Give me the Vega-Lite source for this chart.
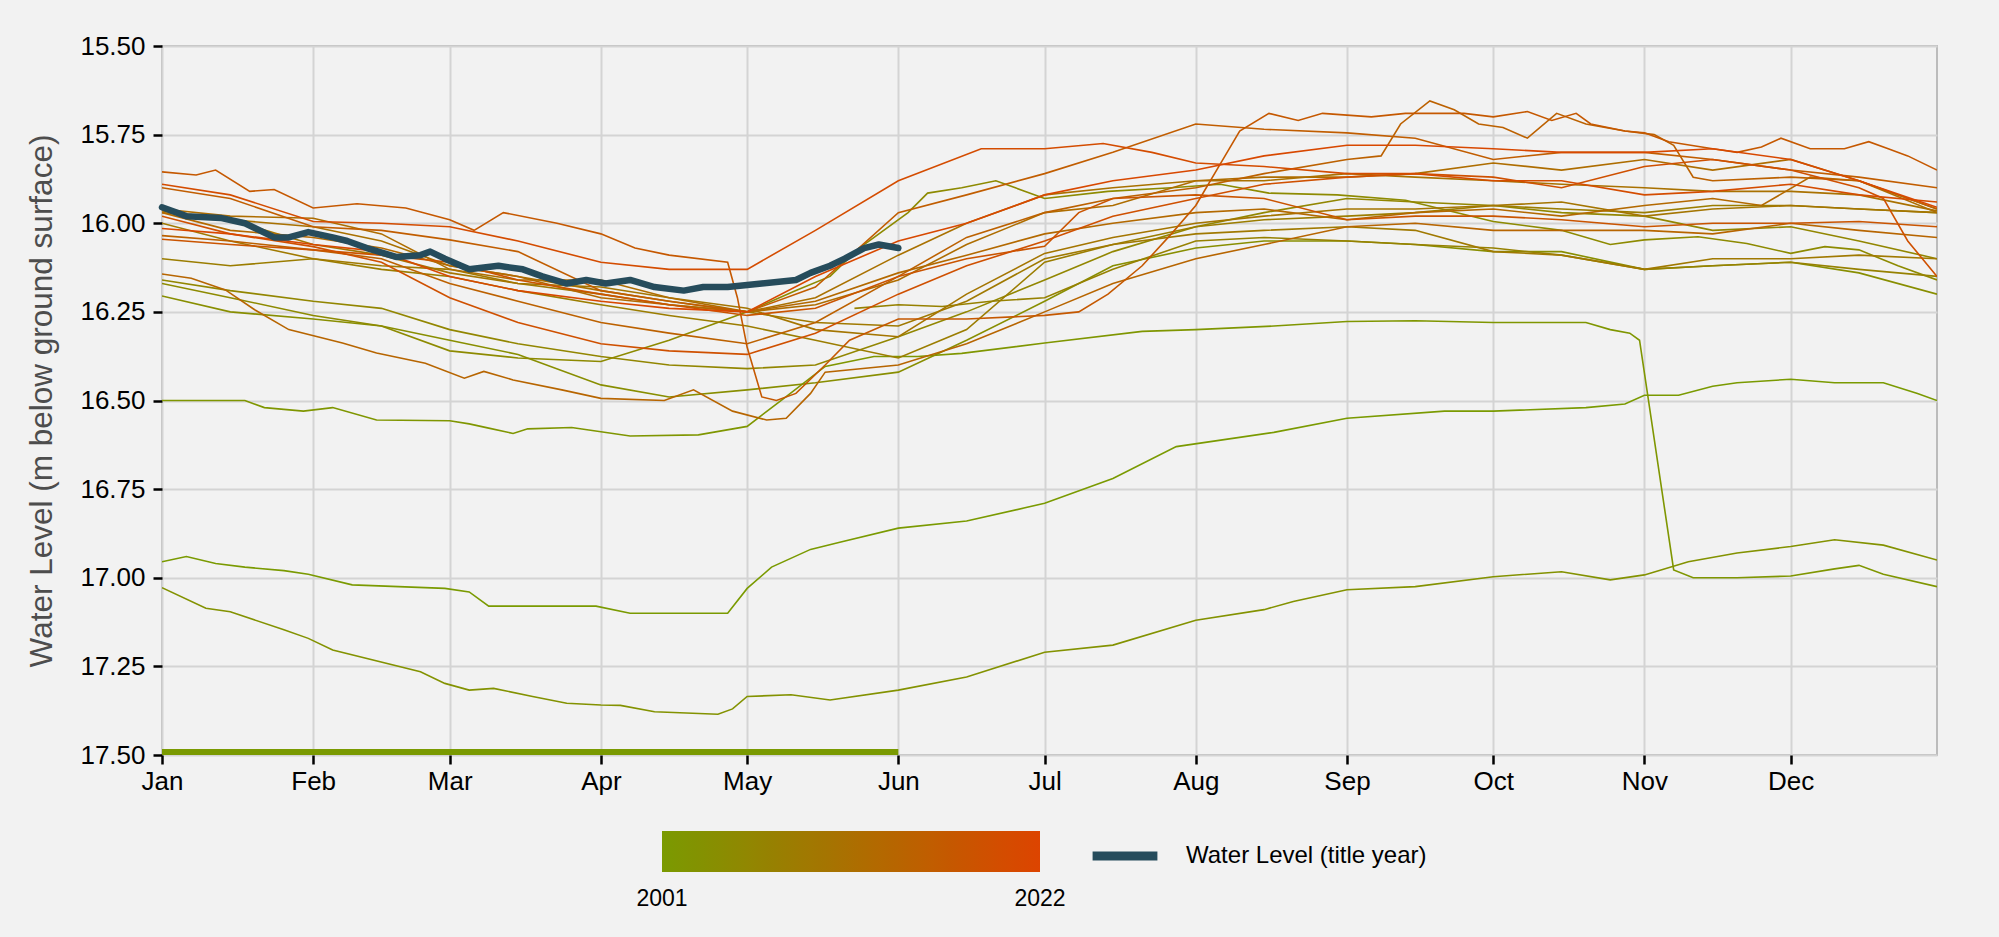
{
"$schema": "https://vega.github.io/schema/vega-lite/v6.json",
"width": 1775, "height": 709,
"autosize": {"type": "none"},
"padding": {"left": 162, "top": 46, "right": 62, "bottom": 182},
"background": "#f2f2f2",
"config": {
  "font": "Liberation Sans",
  "view": {"fill": "#f2f2f2", "stroke": "#bcbcbc", "strokeWidth": 2},
  "axis": {"gridColor": "#d4d4d4", "gridWidth": 2, "tickColor": "#000000", "tickWidth": 2.5, "tickSize": 9, "labelFontSize": 26, "labelColor": "#000000", "domain": false, "labelFont": "Liberation Sans"},
  "legend": {"padding": 0, "labelFont": "Liberation Sans", "labelColor": "#000000", "labelLimit": 0}
},
"datasets": {
"hist": [
{"yr":2001,"date":"2022-01-01","wl":16.955},{"yr":2001,"date":"2022-01-06","wl":16.94},{"yr":2001,"date":"2022-01-12","wl":16.96},{"yr":2001,"date":"2022-01-18","wl":16.97},{"yr":2001,"date":"2022-01-26","wl":16.98},{"yr":2001,"date":"2022-01-31","wl":16.99},{"yr":2001,"date":"2022-02-09","wl":17.02},{"yr":2001,"date":"2022-02-28","wl":17.03},{"yr":2001,"date":"2022-03-05","wl":17.04},{"yr":2001,"date":"2022-03-09","wl":17.08},{"yr":2001,"date":"2022-03-31","wl":17.08},{"yr":2001,"date":"2022-04-07","wl":17.10},{"yr":2001,"date":"2022-04-27","wl":17.10},{"yr":2001,"date":"2022-05-01","wl":17.03},{"yr":2001,"date":"2022-05-06","wl":16.97},{"yr":2001,"date":"2022-05-14","wl":16.92},{"yr":2001,"date":"2022-05-20","wl":16.90},{"yr":2001,"date":"2022-06-01","wl":16.86},{"yr":2001,"date":"2022-06-15","wl":16.84},{"yr":2001,"date":"2022-07-01","wl":16.79},{"yr":2001,"date":"2022-07-15","wl":16.72},{"yr":2001,"date":"2022-07-28","wl":16.63},{"yr":2001,"date":"2022-08-17","wl":16.59},{"yr":2001,"date":"2022-09-01","wl":16.55},{"yr":2001,"date":"2022-09-21","wl":16.53},{"yr":2001,"date":"2022-10-01","wl":16.53},{"yr":2001,"date":"2022-10-20","wl":16.52},{"yr":2001,"date":"2022-10-28","wl":16.51},{"yr":2001,"date":"2022-11-01","wl":16.485},{"yr":2001,"date":"2022-11-08","wl":16.485},{"yr":2001,"date":"2022-11-15","wl":16.46},{"yr":2001,"date":"2022-11-20","wl":16.45},{"yr":2001,"date":"2022-12-01","wl":16.44},{"yr":2001,"date":"2022-12-10","wl":16.45},{"yr":2001,"date":"2022-12-20","wl":16.45},{"yr":2001,"date":"2022-12-27","wl":16.48},{"yr":2001,"date":"2022-12-31","wl":16.50},
{"yr":2002,"date":"2022-01-01","wl":16.50},{"yr":2002,"date":"2022-01-18","wl":16.50},{"yr":2002,"date":"2022-01-22","wl":16.52},{"yr":2002,"date":"2022-01-30","wl":16.53},{"yr":2002,"date":"2022-02-05","wl":16.52},{"yr":2002,"date":"2022-02-14","wl":16.555},{"yr":2002,"date":"2022-03-01","wl":16.557},{"yr":2002,"date":"2022-03-05","wl":16.566},{"yr":2002,"date":"2022-03-09","wl":16.578},{"yr":2002,"date":"2022-03-14","wl":16.593},{"yr":2002,"date":"2022-03-17","wl":16.58},{"yr":2002,"date":"2022-03-26","wl":16.576},{"yr":2002,"date":"2022-04-07","wl":16.60},{"yr":2002,"date":"2022-04-21","wl":16.597},{"yr":2002,"date":"2022-05-01","wl":16.573},{"yr":2002,"date":"2022-05-09","wl":16.489},{"yr":2002,"date":"2022-05-17","wl":16.404},{"yr":2002,"date":"2022-05-27","wl":16.376},{"yr":2002,"date":"2022-06-05","wl":16.376},{"yr":2002,"date":"2022-06-14","wl":16.367},{"yr":2002,"date":"2022-07-01","wl":16.338},{"yr":2002,"date":"2022-07-21","wl":16.305},{"yr":2002,"date":"2022-08-01","wl":16.30},{"yr":2002,"date":"2022-08-17","wl":16.29},{"yr":2002,"date":"2022-09-01","wl":16.277},{"yr":2002,"date":"2022-09-15","wl":16.275},{"yr":2002,"date":"2022-10-01","wl":16.28},{"yr":2002,"date":"2022-10-20","wl":16.28},{"yr":2002,"date":"2022-10-25","wl":16.30},{"yr":2002,"date":"2022-10-29","wl":16.31},{"yr":2002,"date":"2022-10-31","wl":16.33},{"yr":2002,"date":"2022-11-07","wl":16.978},{"yr":2002,"date":"2022-11-11","wl":17.0},{"yr":2002,"date":"2022-11-20","wl":17.0},{"yr":2002,"date":"2022-12-01","wl":16.995},{"yr":2002,"date":"2022-12-10","wl":16.975},{"yr":2002,"date":"2022-12-15","wl":16.965},{"yr":2002,"date":"2022-12-20","wl":16.99},{"yr":2002,"date":"2022-12-31","wl":17.025},
{"yr":2003,"date":"2022-01-01","wl":17.028},{"yr":2003,"date":"2022-01-10","wl":17.086},{"yr":2003,"date":"2022-01-15","wl":17.096},{"yr":2003,"date":"2022-01-26","wl":17.147},{"yr":2003,"date":"2022-01-31","wl":17.171},{"yr":2003,"date":"2022-02-05","wl":17.204},{"yr":2003,"date":"2022-02-23","wl":17.265},{"yr":2003,"date":"2022-02-28","wl":17.298},{"yr":2003,"date":"2022-03-05","wl":17.317},{"yr":2003,"date":"2022-03-10","wl":17.312},{"yr":2003,"date":"2022-03-18","wl":17.335},{"yr":2003,"date":"2022-03-25","wl":17.354},{"yr":2003,"date":"2022-04-01","wl":17.359},{"yr":2003,"date":"2022-04-05","wl":17.36},{"yr":2003,"date":"2022-04-12","wl":17.378},{"yr":2003,"date":"2022-04-25","wl":17.385},{"yr":2003,"date":"2022-04-28","wl":17.37},{"yr":2003,"date":"2022-05-01","wl":17.335},{"yr":2003,"date":"2022-05-10","wl":17.33},{"yr":2003,"date":"2022-05-18","wl":17.345},{"yr":2003,"date":"2022-06-01","wl":17.317},{"yr":2003,"date":"2022-06-15","wl":17.28},{"yr":2003,"date":"2022-07-01","wl":17.21},{"yr":2003,"date":"2022-07-15","wl":17.19},{"yr":2003,"date":"2022-08-01","wl":17.12},{"yr":2003,"date":"2022-08-15","wl":17.09},{"yr":2003,"date":"2022-08-21","wl":17.067},{"yr":2003,"date":"2022-09-01","wl":17.034},{"yr":2003,"date":"2022-09-15","wl":17.025},{"yr":2003,"date":"2022-10-01","wl":16.997},{"yr":2003,"date":"2022-10-15","wl":16.983},{"yr":2003,"date":"2022-10-25","wl":17.006},{"yr":2003,"date":"2022-11-01","wl":16.992},{"yr":2003,"date":"2022-11-10","wl":16.955},{"yr":2003,"date":"2022-11-20","wl":16.93},{"yr":2003,"date":"2022-12-01","wl":16.912},{"yr":2003,"date":"2022-12-10","wl":16.893},{"yr":2003,"date":"2022-12-20","wl":16.908},{"yr":2003,"date":"2022-12-31","wl":16.95},
{"yr":2004,"date":"2022-01-01","wl":16.205},{"yr":2004,"date":"2022-01-15","wl":16.25},{"yr":2004,"date":"2022-02-01","wl":16.27},{"yr":2004,"date":"2022-02-15","wl":16.29},{"yr":2004,"date":"2022-03-01","wl":16.33},{"yr":2004,"date":"2022-03-15","wl":16.37},{"yr":2004,"date":"2022-04-01","wl":16.456},{"yr":2004,"date":"2022-04-15","wl":16.49},{"yr":2004,"date":"2022-05-01","wl":16.47},{"yr":2004,"date":"2022-05-15","wl":16.45},{"yr":2004,"date":"2022-06-01","wl":16.42},{"yr":2004,"date":"2022-06-15","wl":16.33},{"yr":2004,"date":"2022-07-01","wl":16.22},{"yr":2004,"date":"2022-07-15","wl":16.12},{"yr":2004,"date":"2022-08-01","wl":16.07},{"yr":2004,"date":"2022-08-15","wl":16.05},{"yr":2004,"date":"2022-09-01","wl":16.05},{"yr":2004,"date":"2022-09-15","wl":16.06},{"yr":2004,"date":"2022-10-01","wl":16.08},{"yr":2004,"date":"2022-10-15","wl":16.08},{"yr":2004,"date":"2022-11-01","wl":16.13},{"yr":2004,"date":"2022-11-15","wl":16.12},{"yr":2004,"date":"2022-12-01","wl":16.11},{"yr":2004,"date":"2022-12-15","wl":16.14},{"yr":2004,"date":"2022-12-31","wl":16.20},
{"yr":2005,"date":"2022-01-01","wl":16.17},{"yr":2005,"date":"2022-01-15","wl":16.21},{"yr":2005,"date":"2022-02-01","wl":16.26},{"yr":2005,"date":"2022-02-15","wl":16.29},{"yr":2005,"date":"2022-03-01","wl":16.36},{"yr":2005,"date":"2022-03-15","wl":16.38},{"yr":2005,"date":"2022-04-01","wl":16.39},{"yr":2005,"date":"2022-04-15","wl":16.33},{"yr":2005,"date":"2022-05-01","wl":16.25},{"yr":2005,"date":"2022-05-11","wl":16.19},{"yr":2005,"date":"2022-05-18","wl":16.15},{"yr":2005,"date":"2022-05-24","wl":16.07},{"yr":2005,"date":"2022-06-03","wl":15.97},{"yr":2005,"date":"2022-06-07","wl":15.915},{"yr":2005,"date":"2022-06-14","wl":15.90},{"yr":2005,"date":"2022-06-21","wl":15.88},{"yr":2005,"date":"2022-06-25","wl":15.90},{"yr":2005,"date":"2022-07-01","wl":15.93},{"yr":2005,"date":"2022-07-14","wl":15.91},{"yr":2005,"date":"2022-07-27","wl":15.90},{"yr":2005,"date":"2022-08-06","wl":15.89},{"yr":2005,"date":"2022-08-16","wl":15.915},{"yr":2005,"date":"2022-08-30","wl":15.92},{"yr":2005,"date":"2022-09-13","wl":15.935},{"yr":2005,"date":"2022-10-01","wl":15.995},{"yr":2005,"date":"2022-10-15","wl":16.02},{"yr":2005,"date":"2022-10-25","wl":16.06},{"yr":2005,"date":"2022-11-01","wl":16.047},{"yr":2005,"date":"2022-11-12","wl":16.038},{"yr":2005,"date":"2022-11-22","wl":16.057},{"yr":2005,"date":"2022-12-01","wl":16.085},{"yr":2005,"date":"2022-12-08","wl":16.066},{"yr":2005,"date":"2022-12-15","wl":16.075},{"yr":2005,"date":"2022-12-23","wl":16.12},{"yr":2005,"date":"2022-12-31","wl":16.16},
{"yr":2006,"date":"2022-01-01","wl":16.16},{"yr":2006,"date":"2022-01-15","wl":16.19},{"yr":2006,"date":"2022-02-01","wl":16.22},{"yr":2006,"date":"2022-02-15","wl":16.24},{"yr":2006,"date":"2022-03-01","wl":16.30},{"yr":2006,"date":"2022-03-15","wl":16.34},{"yr":2006,"date":"2022-04-01","wl":16.376},{"yr":2006,"date":"2022-04-15","wl":16.40},{"yr":2006,"date":"2022-05-01","wl":16.41},{"yr":2006,"date":"2022-05-15","wl":16.40},{"yr":2006,"date":"2022-06-01","wl":16.32},{"yr":2006,"date":"2022-06-15","wl":16.25},{"yr":2006,"date":"2022-07-01","wl":16.16},{"yr":2006,"date":"2022-07-15","wl":16.08},{"yr":2006,"date":"2022-08-01","wl":16.01},{"yr":2006,"date":"2022-08-15","wl":15.97},{"yr":2006,"date":"2022-09-01","wl":15.93},{"yr":2006,"date":"2022-09-15","wl":15.94},{"yr":2006,"date":"2022-10-01","wl":15.95},{"yr":2006,"date":"2022-10-15","wl":15.97},{"yr":2006,"date":"2022-11-01","wl":15.98},{"yr":2006,"date":"2022-11-15","wl":16.02},{"yr":2006,"date":"2022-12-01","wl":16.01},{"yr":2006,"date":"2022-12-15","wl":16.05},{"yr":2006,"date":"2022-12-31","wl":16.10},
{"yr":2007,"date":"2022-05-23","wl":16.24},{"yr":2007,"date":"2022-06-01","wl":16.23},{"yr":2007,"date":"2022-06-10","wl":16.235},{"yr":2007,"date":"2022-06-20","wl":16.22},{"yr":2007,"date":"2022-07-01","wl":16.21},{"yr":2007,"date":"2022-07-15","wl":16.13},{"yr":2007,"date":"2022-08-01","wl":16.05},{"yr":2007,"date":"2022-08-15","wl":16.04},{"yr":2007,"date":"2022-09-01","wl":16.05},{"yr":2007,"date":"2022-09-15","wl":16.06},{"yr":2007,"date":"2022-10-01","wl":16.07},{"yr":2007,"date":"2022-10-15","wl":16.09},{"yr":2007,"date":"2022-11-01","wl":16.13},{"yr":2007,"date":"2022-11-15","wl":16.12},{"yr":2007,"date":"2022-12-01","wl":16.11},{"yr":2007,"date":"2022-12-15","wl":16.13},{"yr":2007,"date":"2022-12-31","wl":16.15},
{"yr":2008,"date":"2022-01-01","wl":16.10},{"yr":2008,"date":"2022-01-15","wl":16.12},{"yr":2008,"date":"2022-02-01","wl":16.10},{"yr":2008,"date":"2022-02-15","wl":16.13},{"yr":2008,"date":"2022-03-01","wl":16.15},{"yr":2008,"date":"2022-03-15","wl":16.19},{"yr":2008,"date":"2022-04-01","wl":16.23},{"yr":2008,"date":"2022-04-15","wl":16.26},{"yr":2008,"date":"2022-05-01","wl":16.29},{"yr":2008,"date":"2022-05-15","wl":16.33},{"yr":2008,"date":"2022-06-01","wl":16.38},{"yr":2008,"date":"2022-06-15","wl":16.30},{"yr":2008,"date":"2022-07-01","wl":16.11},{"yr":2008,"date":"2022-07-15","wl":16.06},{"yr":2008,"date":"2022-08-01","wl":16.01},{"yr":2008,"date":"2022-08-15","wl":15.99},{"yr":2008,"date":"2022-09-01","wl":15.98},{"yr":2008,"date":"2022-09-15","wl":15.97},{"yr":2008,"date":"2022-10-01","wl":15.95},{"yr":2008,"date":"2022-10-15","wl":15.96},{"yr":2008,"date":"2022-11-01","wl":15.97},{"yr":2008,"date":"2022-11-15","wl":15.95},{"yr":2008,"date":"2022-12-01","wl":15.95},{"yr":2008,"date":"2022-12-15","wl":15.96},{"yr":2008,"date":"2022-12-31","wl":15.97},
{"yr":2009,"date":"2022-01-01","wl":16.00},{"yr":2009,"date":"2022-01-15","wl":16.05},{"yr":2009,"date":"2022-02-01","wl":16.10},{"yr":2009,"date":"2022-02-15","wl":16.12},{"yr":2009,"date":"2022-03-01","wl":16.13},{"yr":2009,"date":"2022-03-15","wl":16.17},{"yr":2009,"date":"2022-04-01","wl":16.20},{"yr":2009,"date":"2022-04-15","wl":16.23},{"yr":2009,"date":"2022-05-01","wl":16.25},{"yr":2009,"date":"2022-05-15","wl":16.28},{"yr":2009,"date":"2022-06-01","wl":16.29},{"yr":2009,"date":"2022-06-15","wl":16.22},{"yr":2009,"date":"2022-07-01","wl":16.10},{"yr":2009,"date":"2022-07-15","wl":16.06},{"yr":2009,"date":"2022-08-01","wl":16.03},{"yr":2009,"date":"2022-08-15","wl":16.02},{"yr":2009,"date":"2022-09-01","wl":16.01},{"yr":2009,"date":"2022-09-15","wl":16.02},{"yr":2009,"date":"2022-10-01","wl":16.08},{"yr":2009,"date":"2022-10-15","wl":16.09},{"yr":2009,"date":"2022-11-01","wl":16.13},{"yr":2009,"date":"2022-11-15","wl":16.10},{"yr":2009,"date":"2022-12-01","wl":16.10},{"yr":2009,"date":"2022-12-15","wl":16.09},{"yr":2009,"date":"2022-12-31","wl":16.10},
{"yr":2010,"date":"2022-01-01","wl":15.97},{"yr":2010,"date":"2022-01-15","wl":15.99},{"yr":2010,"date":"2022-02-01","wl":16.06},{"yr":2010,"date":"2022-02-15","wl":16.09},{"yr":2010,"date":"2022-03-01","wl":16.14},{"yr":2010,"date":"2022-03-15","wl":16.17},{"yr":2010,"date":"2022-04-01","wl":16.18},{"yr":2010,"date":"2022-04-15","wl":16.21},{"yr":2010,"date":"2022-05-01","wl":16.24},{"yr":2010,"date":"2022-05-15","wl":16.30},{"yr":2010,"date":"2022-06-01","wl":16.32},{"yr":2010,"date":"2022-06-15","wl":16.20},{"yr":2010,"date":"2022-07-01","wl":16.085},{"yr":2010,"date":"2022-07-15","wl":16.04},{"yr":2010,"date":"2022-08-01","wl":16.00},{"yr":2010,"date":"2022-08-15","wl":15.98},{"yr":2010,"date":"2022-09-01","wl":15.96},{"yr":2010,"date":"2022-09-15","wl":15.96},{"yr":2010,"date":"2022-10-01","wl":15.95},{"yr":2010,"date":"2022-10-15","wl":15.94},{"yr":2010,"date":"2022-11-01","wl":15.98},{"yr":2010,"date":"2022-11-15","wl":15.96},{"yr":2010,"date":"2022-12-01","wl":15.95},{"yr":2010,"date":"2022-12-15","wl":15.96},{"yr":2010,"date":"2022-12-31","wl":15.97},
{"yr":2011,"date":"2022-01-01","wl":15.965},{"yr":2011,"date":"2022-01-15","wl":15.99},{"yr":2011,"date":"2022-02-01","wl":16.01},{"yr":2011,"date":"2022-02-15","wl":16.05},{"yr":2011,"date":"2022-03-01","wl":16.12},{"yr":2011,"date":"2022-03-15","wl":16.15},{"yr":2011,"date":"2022-04-01","wl":16.19},{"yr":2011,"date":"2022-04-15","wl":16.22},{"yr":2011,"date":"2022-05-01","wl":16.25},{"yr":2011,"date":"2022-05-15","wl":16.21},{"yr":2011,"date":"2022-06-01","wl":16.09},{"yr":2011,"date":"2022-06-15","wl":16.00},{"yr":2011,"date":"2022-07-01","wl":15.92},{"yr":2011,"date":"2022-07-15","wl":15.90},{"yr":2011,"date":"2022-08-01","wl":15.88},{"yr":2011,"date":"2022-08-15","wl":15.88},{"yr":2011,"date":"2022-09-01","wl":15.86},{"yr":2011,"date":"2022-09-15","wl":15.87},{"yr":2011,"date":"2022-10-01","wl":15.88},{"yr":2011,"date":"2022-10-15","wl":15.89},{"yr":2011,"date":"2022-11-01","wl":15.90},{"yr":2011,"date":"2022-11-15","wl":15.91},{"yr":2011,"date":"2022-12-01","wl":15.91},{"yr":2011,"date":"2022-12-15","wl":15.92},{"yr":2011,"date":"2022-12-31","wl":15.965},
{"yr":2012,"date":"2022-01-01","wl":15.96},{"yr":2012,"date":"2022-01-15","wl":15.98},{"yr":2012,"date":"2022-02-01","wl":15.986},{"yr":2012,"date":"2022-02-15","wl":16.03},{"yr":2012,"date":"2022-03-01","wl":16.13},{"yr":2012,"date":"2022-03-15","wl":16.16},{"yr":2012,"date":"2022-04-01","wl":16.16},{"yr":2012,"date":"2022-04-15","wl":16.21},{"yr":2012,"date":"2022-05-01","wl":16.25},{"yr":2012,"date":"2022-05-15","wl":16.23},{"yr":2012,"date":"2022-06-01","wl":16.16},{"yr":2012,"date":"2022-06-15","wl":16.06},{"yr":2012,"date":"2022-07-01","wl":15.97},{"yr":2012,"date":"2022-07-15","wl":15.95},{"yr":2012,"date":"2022-08-01","wl":15.88},{"yr":2012,"date":"2022-08-15","wl":15.87},{"yr":2012,"date":"2022-09-01","wl":15.87},{"yr":2012,"date":"2022-09-15","wl":15.86},{"yr":2012,"date":"2022-10-01","wl":15.83},{"yr":2012,"date":"2022-10-15","wl":15.85},{"yr":2012,"date":"2022-11-01","wl":15.82},{"yr":2012,"date":"2022-11-15","wl":15.85},{"yr":2012,"date":"2022-12-01","wl":15.82},{"yr":2012,"date":"2022-12-15","wl":15.88},{"yr":2012,"date":"2022-12-31","wl":15.97},
{"yr":2013,"date":"2022-01-01","wl":15.97},{"yr":2013,"date":"2022-01-15","wl":16.02},{"yr":2013,"date":"2022-02-01","wl":16.04},{"yr":2013,"date":"2022-02-15","wl":16.07},{"yr":2013,"date":"2022-03-01","wl":16.12},{"yr":2013,"date":"2022-03-15","wl":16.15},{"yr":2013,"date":"2022-04-01","wl":16.21},{"yr":2013,"date":"2022-04-15","wl":16.23},{"yr":2013,"date":"2022-05-01","wl":16.25},{"yr":2013,"date":"2022-05-15","wl":16.22},{"yr":2013,"date":"2022-06-01","wl":16.14},{"yr":2013,"date":"2022-06-15","wl":16.09},{"yr":2013,"date":"2022-07-01","wl":16.03},{"yr":2013,"date":"2022-07-15","wl":16.00},{"yr":2013,"date":"2022-08-01","wl":15.97},{"yr":2013,"date":"2022-08-15","wl":15.96},{"yr":2013,"date":"2022-09-01","wl":15.99},{"yr":2013,"date":"2022-09-15","wl":15.97},{"yr":2013,"date":"2022-10-01","wl":15.96},{"yr":2013,"date":"2022-10-15","wl":15.98},{"yr":2013,"date":"2022-11-01","wl":15.95},{"yr":2013,"date":"2022-11-15","wl":15.93},{"yr":2013,"date":"2022-11-25","wl":15.95},{"yr":2013,"date":"2022-12-05","wl":15.87},{"yr":2013,"date":"2022-12-15","wl":15.88},{"yr":2013,"date":"2022-12-31","wl":15.96},
{"yr":2014,"date":"2022-01-01","wl":16.143},{"yr":2014,"date":"2022-01-07","wl":16.155},{"yr":2014,"date":"2022-01-14","wl":16.188},{"yr":2014,"date":"2022-01-20","wl":16.244},{"yr":2014,"date":"2022-01-27","wl":16.30},{"yr":2014,"date":"2022-02-07","wl":16.338},{"yr":2014,"date":"2022-02-14","wl":16.366},{"yr":2014,"date":"2022-02-24","wl":16.395},{"yr":2014,"date":"2022-03-04","wl":16.437},{"yr":2014,"date":"2022-03-08","wl":16.418},{"yr":2014,"date":"2022-03-14","wl":16.442},{"yr":2014,"date":"2022-03-24","wl":16.47},{"yr":2014,"date":"2022-04-01","wl":16.494},{"yr":2014,"date":"2022-04-14","wl":16.50},{"yr":2014,"date":"2022-04-20","wl":16.47},{"yr":2014,"date":"2022-04-28","wl":16.53},{"yr":2014,"date":"2022-05-05","wl":16.555},{"yr":2014,"date":"2022-05-09","wl":16.55},{"yr":2014,"date":"2022-05-14","wl":16.48},{"yr":2014,"date":"2022-05-17","wl":16.42},{"yr":2014,"date":"2022-06-01","wl":16.40},{"yr":2014,"date":"2022-06-15","wl":16.34},{"yr":2014,"date":"2022-07-01","wl":16.25},{"yr":2014,"date":"2022-07-15","wl":16.17},{"yr":2014,"date":"2022-08-01","wl":16.10},{"yr":2014,"date":"2022-08-15","wl":16.06},{"yr":2014,"date":"2022-09-01","wl":16.01},{"yr":2014,"date":"2022-09-15","wl":16.00},{"yr":2014,"date":"2022-10-01","wl":16.02},{"yr":2014,"date":"2022-10-15","wl":16.02},{"yr":2014,"date":"2022-11-01","wl":16.02},{"yr":2014,"date":"2022-11-15","wl":16.03},{"yr":2014,"date":"2022-12-01","wl":16.00},{"yr":2014,"date":"2022-12-15","wl":16.02},{"yr":2014,"date":"2022-12-31","wl":16.04},
{"yr":2015,"date":"2022-01-01","wl":16.035},{"yr":2015,"date":"2022-01-15","wl":16.05},{"yr":2015,"date":"2022-02-01","wl":16.075},{"yr":2015,"date":"2022-02-15","wl":16.10},{"yr":2015,"date":"2022-03-01","wl":16.17},{"yr":2015,"date":"2022-03-15","wl":16.22},{"yr":2015,"date":"2022-04-01","wl":16.28},{"yr":2015,"date":"2022-04-15","wl":16.31},{"yr":2015,"date":"2022-05-01","wl":16.34},{"yr":2015,"date":"2022-05-15","wl":16.28},{"yr":2015,"date":"2022-06-01","wl":16.15},{"yr":2015,"date":"2022-06-15","wl":16.04},{"yr":2015,"date":"2022-07-01","wl":15.97},{"yr":2015,"date":"2022-07-15","wl":15.93},{"yr":2015,"date":"2022-08-01","wl":15.90},{"yr":2015,"date":"2022-08-15","wl":15.86},{"yr":2015,"date":"2022-09-01","wl":15.82},{"yr":2015,"date":"2022-09-08","wl":15.81},{"yr":2015,"date":"2022-09-12","wl":15.72},{"yr":2015,"date":"2022-09-18","wl":15.655},{"yr":2015,"date":"2022-09-23","wl":15.68},{"yr":2015,"date":"2022-09-28","wl":15.72},{"yr":2015,"date":"2022-10-03","wl":15.73},{"yr":2015,"date":"2022-10-08","wl":15.76},{"yr":2015,"date":"2022-10-14","wl":15.69},{"yr":2015,"date":"2022-10-20","wl":15.72},{"yr":2015,"date":"2022-10-28","wl":15.74},{"yr":2015,"date":"2022-11-03","wl":15.75},{"yr":2015,"date":"2022-11-07","wl":15.78},{"yr":2015,"date":"2022-11-11","wl":15.87},{"yr":2015,"date":"2022-11-15","wl":15.88},{"yr":2015,"date":"2022-12-01","wl":15.87},{"yr":2015,"date":"2022-12-15","wl":15.88},{"yr":2015,"date":"2022-12-31","wl":15.96},
{"yr":2016,"date":"2022-01-01","wl":15.90},{"yr":2016,"date":"2022-01-15","wl":15.93},{"yr":2016,"date":"2022-02-01","wl":16.01},{"yr":2016,"date":"2022-02-15","wl":16.02},{"yr":2016,"date":"2022-03-01","wl":16.047},{"yr":2016,"date":"2022-03-15","wl":16.08},{"yr":2016,"date":"2022-04-01","wl":16.19},{"yr":2016,"date":"2022-04-15","wl":16.22},{"yr":2016,"date":"2022-05-01","wl":16.25},{"yr":2016,"date":"2022-05-15","wl":16.18},{"yr":2016,"date":"2022-06-01","wl":15.97},{"yr":2016,"date":"2022-06-15","wl":15.92},{"yr":2016,"date":"2022-07-01","wl":15.86},{"yr":2016,"date":"2022-07-15","wl":15.80},{"yr":2016,"date":"2022-08-01","wl":15.72},{"yr":2016,"date":"2022-08-15","wl":15.735},{"yr":2016,"date":"2022-09-01","wl":15.745},{"yr":2016,"date":"2022-09-15","wl":15.76},{"yr":2016,"date":"2022-10-01","wl":15.82},{"yr":2016,"date":"2022-10-15","wl":15.80},{"yr":2016,"date":"2022-11-01","wl":15.80},{"yr":2016,"date":"2022-11-15","wl":15.82},{"yr":2016,"date":"2022-12-01","wl":15.85},{"yr":2016,"date":"2022-12-15","wl":15.87},{"yr":2016,"date":"2022-12-31","wl":15.90},
{"yr":2017,"date":"2022-01-01","wl":15.855},{"yr":2017,"date":"2022-01-08","wl":15.864},{"yr":2017,"date":"2022-01-12","wl":15.85},{"yr":2017,"date":"2022-01-19","wl":15.91},{"yr":2017,"date":"2022-01-24","wl":15.905},{"yr":2017,"date":"2022-02-01","wl":15.957},{"yr":2017,"date":"2022-02-10","wl":15.945},{"yr":2017,"date":"2022-02-20","wl":15.957},{"yr":2017,"date":"2022-03-01","wl":15.99},{"yr":2017,"date":"2022-03-06","wl":16.02},{"yr":2017,"date":"2022-03-12","wl":15.97},{"yr":2017,"date":"2022-03-23","wl":16.0},{"yr":2017,"date":"2022-04-01","wl":16.03},{"yr":2017,"date":"2022-04-08","wl":16.07},{"yr":2017,"date":"2022-04-15","wl":16.09},{"yr":2017,"date":"2022-04-27","wl":16.11},{"yr":2017,"date":"2022-04-29","wl":16.21},{"yr":2017,"date":"2022-05-01","wl":16.35},{"yr":2017,"date":"2022-05-04","wl":16.49},{"yr":2017,"date":"2022-05-07","wl":16.50},{"yr":2017,"date":"2022-05-11","wl":16.48},{"yr":2017,"date":"2022-05-17","wl":16.40},{"yr":2017,"date":"2022-05-22","wl":16.33},{"yr":2017,"date":"2022-06-01","wl":16.27},{"yr":2017,"date":"2022-06-15","wl":16.27},{"yr":2017,"date":"2022-07-01","wl":16.26},{"yr":2017,"date":"2022-07-08","wl":16.25},{"yr":2017,"date":"2022-07-14","wl":16.20},{"yr":2017,"date":"2022-07-21","wl":16.12},{"yr":2017,"date":"2022-07-27","wl":16.03},{"yr":2017,"date":"2022-08-01","wl":15.95},{"yr":2017,"date":"2022-08-07","wl":15.81},{"yr":2017,"date":"2022-08-10","wl":15.74},{"yr":2017,"date":"2022-08-16","wl":15.69},{"yr":2017,"date":"2022-08-22","wl":15.71},{"yr":2017,"date":"2022-08-27","wl":15.69},{"yr":2017,"date":"2022-09-06","wl":15.70},{"yr":2017,"date":"2022-09-13","wl":15.69},{"yr":2017,"date":"2022-09-25","wl":15.69},{"yr":2017,"date":"2022-10-01","wl":15.70},{"yr":2017,"date":"2022-10-08","wl":15.685},{"yr":2017,"date":"2022-10-13","wl":15.71},{"yr":2017,"date":"2022-10-18","wl":15.69},{"yr":2017,"date":"2022-10-21","wl":15.72},{"yr":2017,"date":"2022-10-28","wl":15.74},{"yr":2017,"date":"2022-11-01","wl":15.745},{"yr":2017,"date":"2022-11-06","wl":15.77},{"yr":2017,"date":"2022-11-15","wl":15.79},{"yr":2017,"date":"2022-11-20","wl":15.80},{"yr":2017,"date":"2022-11-25","wl":15.785},{"yr":2017,"date":"2022-11-29","wl":15.76},{"yr":2017,"date":"2022-12-05","wl":15.79},{"yr":2017,"date":"2022-12-12","wl":15.79},{"yr":2017,"date":"2022-12-17","wl":15.77},{"yr":2017,"date":"2022-12-21","wl":15.79},{"yr":2017,"date":"2022-12-25","wl":15.81},{"yr":2017,"date":"2022-12-31","wl":15.85},
{"yr":2018,"date":"2022-01-01","wl":16.045},{"yr":2018,"date":"2022-01-15","wl":16.06},{"yr":2018,"date":"2022-02-01","wl":16.075},{"yr":2018,"date":"2022-02-15","wl":16.09},{"yr":2018,"date":"2022-03-01","wl":16.11},{"yr":2018,"date":"2022-03-15","wl":16.16},{"yr":2018,"date":"2022-04-01","wl":16.20},{"yr":2018,"date":"2022-04-15","wl":16.23},{"yr":2018,"date":"2022-05-01","wl":16.26},{"yr":2018,"date":"2022-05-15","wl":16.24},{"yr":2018,"date":"2022-06-01","wl":16.15},{"yr":2018,"date":"2022-06-15","wl":16.10},{"yr":2018,"date":"2022-07-01","wl":16.065},{"yr":2018,"date":"2022-07-08","wl":15.97},{"yr":2018,"date":"2022-07-15","wl":15.93},{"yr":2018,"date":"2022-08-01","wl":15.92},{"yr":2018,"date":"2022-08-15","wl":15.93},{"yr":2018,"date":"2022-09-01","wl":15.99},{"yr":2018,"date":"2022-09-15","wl":15.98},{"yr":2018,"date":"2022-10-01","wl":15.98},{"yr":2018,"date":"2022-10-15","wl":15.99},{"yr":2018,"date":"2022-11-01","wl":16.01},{"yr":2018,"date":"2022-11-15","wl":16.00},{"yr":2018,"date":"2022-12-01","wl":16.00},{"yr":2018,"date":"2022-12-15","wl":15.995},{"yr":2018,"date":"2022-12-31","wl":16.01},
{"yr":2019,"date":"2022-01-01","wl":15.98},{"yr":2019,"date":"2022-01-15","wl":16.03},{"yr":2019,"date":"2022-02-01","wl":16.066},{"yr":2019,"date":"2022-02-15","wl":16.11},{"yr":2019,"date":"2022-03-01","wl":16.21},{"yr":2019,"date":"2022-03-15","wl":16.28},{"yr":2019,"date":"2022-04-01","wl":16.34},{"yr":2019,"date":"2022-04-15","wl":16.36},{"yr":2019,"date":"2022-05-01","wl":16.37},{"yr":2019,"date":"2022-05-15","wl":16.31},{"yr":2019,"date":"2022-06-01","wl":16.20},{"yr":2019,"date":"2022-06-15","wl":16.12},{"yr":2019,"date":"2022-07-01","wl":16.05},{"yr":2019,"date":"2022-07-15","wl":15.98},{"yr":2019,"date":"2022-08-01","wl":15.93},{"yr":2019,"date":"2022-08-15","wl":15.89},{"yr":2019,"date":"2022-09-01","wl":15.87},{"yr":2019,"date":"2022-09-15","wl":15.86},{"yr":2019,"date":"2022-10-01","wl":15.87},{"yr":2019,"date":"2022-10-15","wl":15.90},{"yr":2019,"date":"2022-11-01","wl":15.84},{"yr":2019,"date":"2022-11-15","wl":15.82},{"yr":2019,"date":"2022-12-01","wl":15.85},{"yr":2019,"date":"2022-12-15","wl":15.90},{"yr":2019,"date":"2022-12-20","wl":15.93},{"yr":2019,"date":"2022-12-25","wl":16.05},{"yr":2019,"date":"2022-12-31","wl":16.15},
{"yr":2020,"date":"2022-01-01","wl":15.89},{"yr":2020,"date":"2022-01-15","wl":15.92},{"yr":2020,"date":"2022-02-01","wl":15.995},{"yr":2020,"date":"2022-02-15","wl":16.00},{"yr":2020,"date":"2022-03-01","wl":16.01},{"yr":2020,"date":"2022-03-15","wl":16.05},{"yr":2020,"date":"2022-04-01","wl":16.11},{"yr":2020,"date":"2022-04-15","wl":16.13},{"yr":2020,"date":"2022-05-01","wl":16.13},{"yr":2020,"date":"2022-05-15","wl":16.02},{"yr":2020,"date":"2022-06-01","wl":15.88},{"yr":2020,"date":"2022-06-18","wl":15.79},{"yr":2020,"date":"2022-07-01","wl":15.79},{"yr":2020,"date":"2022-07-13","wl":15.775},{"yr":2020,"date":"2022-07-23","wl":15.80},{"yr":2020,"date":"2022-08-01","wl":15.83},{"yr":2020,"date":"2022-08-15","wl":15.84},{"yr":2020,"date":"2022-09-01","wl":15.86},{"yr":2020,"date":"2022-09-15","wl":15.86},{"yr":2020,"date":"2022-10-01","wl":15.88},{"yr":2020,"date":"2022-10-15","wl":15.88},{"yr":2020,"date":"2022-11-01","wl":15.92},{"yr":2020,"date":"2022-11-15","wl":15.91},{"yr":2020,"date":"2022-12-01","wl":15.89},{"yr":2020,"date":"2022-12-15","wl":15.92},{"yr":2020,"date":"2022-12-31","wl":15.94},
{"yr":2021,"date":"2022-01-01","wl":16.015},{"yr":2021,"date":"2022-01-15","wl":16.03},{"yr":2021,"date":"2022-02-01","wl":16.06},{"yr":2021,"date":"2022-02-15","wl":16.08},{"yr":2021,"date":"2022-03-01","wl":16.15},{"yr":2021,"date":"2022-03-15","wl":16.19},{"yr":2021,"date":"2022-04-01","wl":16.22},{"yr":2021,"date":"2022-04-15","wl":16.24},{"yr":2021,"date":"2022-05-01","wl":16.25},{"yr":2021,"date":"2022-05-15","wl":16.15},{"yr":2021,"date":"2022-06-01","wl":16.05},{"yr":2021,"date":"2022-06-15","wl":16.00},{"yr":2021,"date":"2022-07-01","wl":15.92},{"yr":2021,"date":"2022-07-15","wl":15.88},{"yr":2021,"date":"2022-08-01","wl":15.85},{"yr":2021,"date":"2022-08-15","wl":15.81},{"yr":2021,"date":"2022-09-01","wl":15.78},{"yr":2021,"date":"2022-09-15","wl":15.78},{"yr":2021,"date":"2022-10-01","wl":15.79},{"yr":2021,"date":"2022-10-15","wl":15.80},{"yr":2021,"date":"2022-11-01","wl":15.80},{"yr":2021,"date":"2022-11-15","wl":15.79},{"yr":2021,"date":"2022-12-01","wl":15.82},{"yr":2021,"date":"2022-12-15","wl":15.88},{"yr":2021,"date":"2022-12-31","wl":15.955}
],
"cur": [
{"series":"Water Level (title year)","date":"2022-01-01","wl":15.955},{"series":"Water Level (title year)","date":"2022-01-06","wl":15.98},{"series":"Water Level (title year)","date":"2022-01-13","wl":15.985},{"series":"Water Level (title year)","date":"2022-01-18","wl":16.00},{"series":"Water Level (title year)","date":"2022-01-24","wl":16.04},{"series":"Water Level (title year)","date":"2022-01-27","wl":16.04},{"series":"Water Level (title year)","date":"2022-01-31","wl":16.025},{"series":"Water Level (title year)","date":"2022-02-05","wl":16.04},{"series":"Water Level (title year)","date":"2022-02-08","wl":16.05},{"series":"Water Level (title year)","date":"2022-02-12","wl":16.07},{"series":"Water Level (title year)","date":"2022-02-18","wl":16.095},{"series":"Water Level (title year)","date":"2022-02-23","wl":16.09},{"series":"Water Level (title year)","date":"2022-02-25","wl":16.08},{"series":"Water Level (title year)","date":"2022-02-28","wl":16.10},{"series":"Water Level (title year)","date":"2022-03-05","wl":16.13},{"series":"Water Level (title year)","date":"2022-03-11","wl":16.12},{"series":"Water Level (title year)","date":"2022-03-16","wl":16.13},{"series":"Water Level (title year)","date":"2022-03-20","wl":16.15},{"series":"Water Level (title year)","date":"2022-03-25","wl":16.17},{"series":"Water Level (title year)","date":"2022-03-29","wl":16.16},{"series":"Water Level (title year)","date":"2022-04-02","wl":16.17},{"series":"Water Level (title year)","date":"2022-04-07","wl":16.16},{"series":"Water Level (title year)","date":"2022-04-12","wl":16.18},{"series":"Water Level (title year)","date":"2022-04-18","wl":16.19},{"series":"Water Level (title year)","date":"2022-04-22","wl":16.18},{"series":"Water Level (title year)","date":"2022-04-27","wl":16.18},{"series":"Water Level (title year)","date":"2022-05-04","wl":16.17},{"series":"Water Level (title year)","date":"2022-05-11","wl":16.16},{"series":"Water Level (title year)","date":"2022-05-14","wl":16.14},{"series":"Water Level (title year)","date":"2022-05-18","wl":16.12},{"series":"Water Level (title year)","date":"2022-05-21","wl":16.10},{"series":"Water Level (title year)","date":"2022-05-25","wl":16.07},{"series":"Water Level (title year)","date":"2022-05-28","wl":16.06},{"series":"Water Level (title year)","date":"2022-06-01","wl":16.07}
],
"bar": [{"start":"2022-01-01","end":"2022-06-01","wl":17.5}]
},
"layer": [
{
 "data": {"name": "hist"},
 "mark": {"type": "line", "strokeWidth": 1.6, "clip": true},
 "encoding": {
  "x": {"field": "date", "type": "temporal",
        "scale": {"type": "utc", "domain": [{"year": 2022, "month": 1, "date": 1, "utc": true}, {"year": 2022, "month": 12, "date": 31, "utc": true}]},
        "axis": {"format": "%b", "tickCount": {"interval": "month", "step": 1}, "labelFlush": false, "title": null, "labelPadding": 4}},
  "y": {"field": "wl", "type": "quantitative",
        "scale": {"domain": [15.5, 17.5], "reverse": true, "nice": false, "zero": false},
        "axis": {"values": [15.5, 15.75, 16.0, 16.25, 16.5, 16.75, 17.0, 17.25, 17.5], "format": ".2f", "title": "Water Level (m below ground surface)", "titleFontSize": 31.5, "titleColor": "#4d4d4d", "titleFontWeight": "normal", "titlePadding": 21, "labelPadding": 8}},
  "color": {"field": "yr", "type": "quantitative",
        "scale": {"domain": [2001, 2022], "range": ["#7a9a01", "#dd4400"], "interpolate": "rgb"},
        "legend": {"title": null, "direction": "horizontal", "orient": "none", "legendX": 500, "legendY": 785, "gradientLength": 378, "gradientThickness": 41, "values": [2001, 2022], "format": "d", "labelFontSize": 23, "labelOffset": 16, "gradientStrokeWidth": 0,
                   "encode": {"labels": {"update": {"align": {"value": "center"}}}}}},
  "detail": {"field": "yr", "type": "nominal"}
 }
},
{
 "data": {"name": "bar"},
 "mark": {"type": "rule", "strokeWidth": 6, "color": "#7a9a01", "yOffset": -3},
 "encoding": {
  "x": {"field": "start", "type": "temporal"},
  "x2": {"field": "end"},
  "y": {"field": "wl", "type": "quantitative"}
 }
},
{
 "data": {"name": "cur"},
 "mark": {"type": "line", "strokeWidth": 6.5, "strokeCap": "round", "strokeJoin": "round"},
 "encoding": {
  "x": {"field": "date", "type": "temporal"},
  "y": {"field": "wl", "type": "quantitative"},
  "stroke": {"field": "series", "type": "nominal", "scale": {"range": ["#264c5c"]},
        "legend": {"title": null, "orient": "none", "legendX": 926, "legendY": 773, "symbolType": "stroke", "symbolSize": 4200, "symbolStrokeWidth": 9, "labelFontSize": 24, "labelOffset": 24, "labelLimit": 0}}
 }
}
]
}
